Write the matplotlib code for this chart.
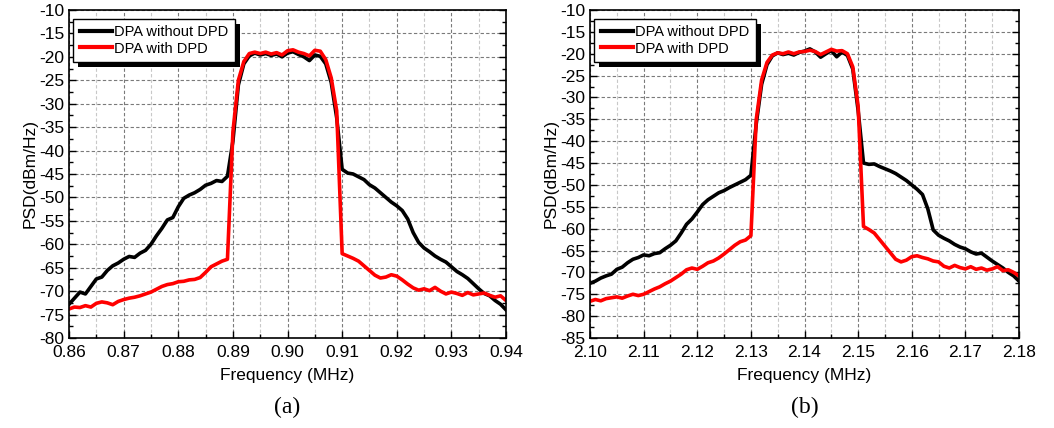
import numpy as np
import matplotlib
matplotlib.use("Agg")
from matplotlib import pyplot as plt
from matplotlib.ticker import MultipleLocator, FormatStrFormatter
from matplotlib import patheffects

plt.rcParams['font.family'] = ['Liberation Sans', 'DejaVu Sans']
plt.rcParams['axes.unicode_minus'] = False

# panel (a): 0.86 - 0.94 MHz, one point every 0.001
freq_a = np.round(np.arange(0.860, 0.9405, 0.001), 3)
no_dpd_a = [-72.8, -71.5, -70.2, -70.6, -69.0, -67.4, -67.0, -65.6, -64.6, -64.0,
            -63.2, -62.6, -62.8, -61.9, -61.3, -60.0, -58.2, -56.6, -54.8, -54.3,
            -52.0, -50.2, -49.5, -49.0, -48.3, -47.4, -47.0, -46.4, -46.6, -45.5,
            -38.0, -26.0, -21.5, -19.8, -19.2, -19.6, -19.3, -19.7, -19.4, -20.0,
            -19.2, -18.9, -19.5, -20.0, -20.8, -19.6, -19.9, -21.5, -25.5, -33.0,
            -44.0, -44.8, -45.0, -45.6, -46.2, -47.3, -48.0, -49.0, -50.0, -51.0,
            -51.8, -52.8, -54.6, -57.5, -59.6, -60.8, -61.6, -62.5, -63.2, -63.8,
            -64.8, -65.8, -66.5, -67.3, -68.4, -69.5, -70.5, -71.0, -72.0, -72.8,
            -74.0]
with_dpd_a = [-73.8, -73.4, -73.5, -73.1, -73.4, -72.6, -72.3, -72.5, -72.9, -72.2,
              -71.8, -71.5, -71.3, -71.0, -70.6, -70.2, -69.6, -69.0, -68.6, -68.4,
              -68.0, -67.9, -67.6, -67.5, -67.1, -66.0, -64.8, -64.2, -63.6, -63.2,
              -36.0, -25.0, -21.0, -19.3, -19.0, -19.3, -19.0, -19.4, -19.1, -19.6,
              -18.7, -18.5, -19.0, -19.3, -19.8, -18.6, -18.8, -20.6, -24.5, -31.5,
              -62.0, -62.5, -63.0, -63.6, -64.6, -65.6, -66.6, -67.2, -67.0, -66.5,
              -66.8, -67.6, -68.5, -69.3, -69.8, -69.5, -69.9, -69.2, -70.0, -70.6,
              -70.2, -70.5, -70.9, -70.3, -70.8, -70.6, -70.4, -70.9, -71.3, -71.0,
              -72.0]

# panel (b): 2.10 - 2.18 MHz
freq_b = np.round(np.arange(2.100, 2.1805, 0.001), 3)
no_dpd_b = [-72.5, -72.0, -71.3, -70.8, -70.4, -69.3, -68.8, -67.8, -67.0, -66.6,
            -66.0, -66.2, -65.7, -65.5, -64.6, -63.8, -62.8, -61.0, -59.0, -57.8,
            -56.2, -54.5, -53.4, -52.6, -51.8, -51.3, -50.6, -50.0, -49.4, -48.8,
            -47.8, -36.0, -27.0, -22.5, -20.5, -19.8, -20.2, -19.9, -20.3, -19.7,
            -19.4, -18.9, -19.6, -20.8, -20.0, -19.3, -20.7, -19.6, -20.4, -23.5,
            -33.0, -45.0, -45.3, -45.2, -45.8, -46.3, -46.8, -47.4, -48.2, -49.0,
            -50.0, -51.0, -52.2, -55.5, -60.3, -61.5, -62.2, -62.8, -63.6, -64.2,
            -64.6, -65.3, -65.8, -65.6, -66.5, -67.4, -68.2, -69.0, -70.0, -70.8,
            -72.0]
with_dpd_b = [-76.6, -76.2, -76.5, -76.0, -75.8, -75.6, -75.9, -75.4, -75.0, -75.3,
              -75.0, -74.4, -73.8, -73.3, -72.6, -72.0, -71.2, -70.4, -69.4, -69.0,
              -69.3, -68.6, -67.8, -67.4, -66.7, -65.8, -64.8, -63.8, -63.0, -62.6,
              -61.6, -35.0, -26.0, -22.0, -20.3, -19.8, -20.0, -19.6, -20.0, -19.6,
              -19.5, -19.2, -19.5, -20.2, -19.6, -19.0, -19.4, -19.3, -20.0, -23.0,
              -32.0, -59.5, -60.2, -61.0, -62.5, -64.0, -65.5, -67.0, -67.6, -67.2,
              -66.4, -66.2, -66.6, -66.9, -67.4, -67.6, -68.6, -69.0, -68.4, -68.9,
              -69.2, -68.7, -69.3, -69.0, -69.5, -69.2, -68.7, -69.6, -69.4, -70.0,
              -70.8]

panels = [
    (freq_a, no_dpd_a, with_dpd_a, (0.86, 0.94), (-80, -10), '(a)'),
    (freq_b, no_dpd_b, with_dpd_b, (2.10, 2.18), (-85, -10), '(b)'),
]
axes_pos = [[0.0655, 0.2103, 0.4146, 0.7664], [0.5598, 0.2103, 0.4070, 0.7664]]

fig = plt.figure(figsize=(10.54, 4.28), dpi=100)

for (f, black, red, xlim, ylim, tag), pos in zip(panels, axes_pos):
    ax = fig.add_axes(pos)
    ax.plot(f, black, color='black', lw=2.6, label='DPA without DPD')
    ax.plot(f, red, color='#ff0000', lw=2.6, label='DPA with DPD')

    ax.set_xlim(xlim)
    ax.set_ylim(ylim)
    ax.xaxis.set_major_locator(MultipleLocator(0.01))
    ax.xaxis.set_minor_locator(MultipleLocator(0.005))
    ax.xaxis.set_major_formatter(FormatStrFormatter('%.2f'))
    ax.yaxis.set_major_locator(MultipleLocator(5))
    ax.yaxis.set_minor_locator(MultipleLocator(2.5))
    ax.tick_params(which='both', direction='in', right=True, top=False, labelsize=12.5)
    ax.tick_params(axis='x', pad=5)
    ax.tick_params(which='major', length=5, width=1)
    ax.tick_params(which='minor', length=3, width=1)
    for s in ax.spines.values():
        s.set_linewidth(1.2)

    ax.grid(which='major', linestyle=(0, (3, 2)), color='#7a7a7a', lw=0.8)
    ax.xaxis.grid(which='minor', linestyle=(0, (3, 2)), color='#c8c8c8', lw=0.8)
    ax.set_axisbelow(True)

    ax.set_xlabel('Frequency (MHz)', fontsize=12.5, labelpad=6)
    ax.set_ylabel('PSD(dBm/Hz)', fontsize=12.5, labelpad=1)

    leg = ax.legend(loc='upper left', bbox_to_anchor=(0.01, 0.973), borderaxespad=0,
                    fontsize=10.5, fancybox=False, edgecolor='black', framealpha=1,
                    handlelength=2.2, handletextpad=0.15, labelspacing=0.15,
                    borderpad=0.45)
    leg.get_frame().set_linewidth(1.0)
    leg.get_frame().set_path_effects([
        patheffects.SimplePatchShadow(offset=(3.5, -3.5), shadow_rgbFace='black', alpha=1),
        patheffects.Normal()])
    for line in leg.get_lines():
        line.set_linewidth(3)

    ax.text(0.5, -0.213, tag, transform=ax.transAxes, ha='center', va='center',
            fontsize=17, family=['Liberation Serif', 'DejaVu Serif'])

plt.savefig('out.png', dpi=100)
